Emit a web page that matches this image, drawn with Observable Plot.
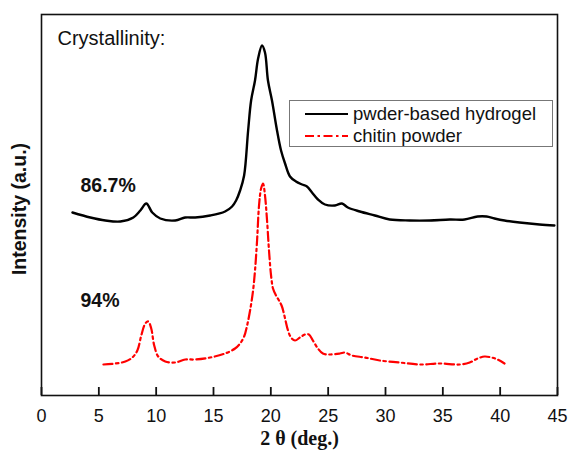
<!DOCTYPE html>
<html>
<head>
<meta charset="utf-8">
<script src="https://cdn.jsdelivr.net/npm/d3@7"></script>
<script src="https://cdn.jsdelivr.net/npm/@observablehq/plot@0.6"></script>
<style>
  body { margin: 0; background: #fff; }
  #wrap { position: relative; width: 570px; height: 454px; font-family: "Liberation Sans", Arial, sans-serif; }
  #legend { position: absolute; left: 289px; top: 100px; width: 264px; height: 47px; border: 1px solid #777; background: #fff; box-sizing: border-box; }
  .row { position: absolute; left: 0; height: 22px; display: flex; align-items: center; font-size: 18.5px; color: #111; white-space: nowrap; }
  .row svg { margin-left: 15px; margin-right: 5px; }
</style>
</head>
<body>
<div id="wrap">
  <div id="chart"></div>
  <div id="legend"></div>
</div>
<script>
// X: 2θ (deg.), Y: intensity (a.u.)
const hydrogelX = [2.70,4.26,5.57,6.88,8.01,8.62,9.14,9.66,10.36,11.66,12.53,13.40,14.71,16.01,16.62,16.97,17.32,17.67,18.02,18.28,18.62,18.89,19.23,19.49,19.75,20.10,20.54,20.89,21.24,21.67,22.19,22.72,23.15,23.59,24.11,24.72,25.59,26.20,26.72,27.76,29.07,30.37,32.11,33.86,35.60,36.90,38.03,38.82,39.51,40.38,41.69,43.43,44.73];
const hydrogelY = [183,178,175,174,178,185,192,183,177,175,178,178,180,184,189,195,205,220,265,295,315,337,350,343,315,295,265,245,232,219,214,211,209,203,196,191,190,192,188,184,180,176,175,175,176,176,179,179,177,175,173,171,170];

const chitinX = [5.40,6.44,7.31,7.92,8.36,8.70,9.05,9.31,9.57,9.83,10.18,10.79,11.66,12.53,13.40,14.71,16.01,16.88,17.32,17.67,17.93,18.19,18.45,18.62,18.80,18.97,19.15,19.32,19.49,19.67,19.84,20.02,20.19,20.45,20.71,20.97,21.24,21.50,21.76,22.11,22.54,22.98,23.32,23.67,24.11,24.54,25.15,26.02,26.46,27.07,28.20,29.50,31.24,32.98,34.73,36.47,37.34,38.03,38.64,39.25,39.77,40.38];
const chitinY = [31,32,34,38,45,60,72,74,67,50,39,34,33,36,36,38,42,47,52,59,70,85,105,125,155,190,207,212,200,175,145,120,107,100,95,89,77,65,58,55,58,61,61,55,47,42,41,42,43,40,38,35,33,31,32,31,33,37,39,38,36,32];

const xTicks = [0,5,10,15,20,25,30,35,40,45];
const seriesNames = ["pwder-based hydrogel", "chitin powder"];
const seriesColors = ["#000000", "#ff0000"];

const annotations = [
  {label: "86.7%", x: 3.4, y: 210},
  {label: "94%", x: 3.4, y: 95}
];

const hydrogel = hydrogelX.map((x, i) => ({x, y: hydrogelY[i]}));
const chitin = chitinX.map((x, i) => ({x, y: chitinY[i]}));

const chart = Plot.plot({
  width: 570,
  height: 454,
  marginLeft: 41,
  marginRight: 13,
  marginTop: 14,
  marginBottom: 59,
  style: {fontFamily: "'Liberation Sans', Arial, sans-serif", fontSize: "18px", color: "#111", background: "#fff"},
  x: {domain: [0, 45]},
  y: {domain: [0, 381], axis: null},
  marks: [
    Plot.axisX({ticks: xTicks, tickSize: 0, tickPadding: 14, label: null, fontSize: 18, fill: "#111"}),
    Plot.ruleX(xTicks, {y1: 0, y2: 8, stroke: "#111", strokeWidth: 1.8}),
    Plot.line(chitin, {x: "x", y: "y", stroke: seriesColors[1], strokeWidth: 2.2, strokeDasharray: "9,3.5,2.5,3.5", curve: "catmull-rom"}),
    Plot.line(hydrogel, {x: "x", y: "y", stroke: seriesColors[0], strokeWidth: 2.4, curve: "catmull-rom"}),
    Plot.frame({stroke: "#111", strokeWidth: 1.6}),
    Plot.text(["Crystallinity:"], {frameAnchor: "top-left", dx: 16, dy: 24, textAnchor: "start", lineAnchor: "middle", fontSize: 20, fill: "#111"}),
    Plot.text(annotations, {x: "x", y: "y", text: "label", textAnchor: "start", fontSize: 19.5, fontWeight: "bold", fill: "#111"}),
    Plot.text(["Intensity (a.u.)"], {frameAnchor: "left", dx: -22, dy: 4, rotate: -90, textAnchor: "middle", lineAnchor: "middle", fontSize: 19.5, fontWeight: "bold", fill: "#111"}),
    Plot.text(["2 θ (deg.)"], {frameAnchor: "bottom", dy: 43, textAnchor: "middle", lineAnchor: "middle", fontFamily: "'Liberation Serif', 'Times New Roman', serif", fontSize: 20, fontWeight: "bold", fill: "#111"})
  ]
});
document.getElementById("chart").appendChild(chart);

// legend
const legend = document.getElementById("legend");
const dashes = [null, "9,3.5,2.5,3.5"];
seriesNames.forEach((name, i) => {
  const row = document.createElement("div");
  row.className = "row";
  row.style.top = (i === 0 ? 2 : 24) + "px";
  const svg = d3.create("svg").attr("width", 43).attr("height", 10);
  svg.append("line").attr("x1", 0).attr("x2", 43).attr("y1", 5).attr("y2", 5)
    .attr("stroke", seriesColors[i]).attr("stroke-width", 2.2)
    .attr("stroke-dasharray", dashes[i]);
  row.appendChild(svg.node());
  const span = document.createElement("span");
  span.textContent = name;
  row.appendChild(span);
  legend.appendChild(row);
});
</script>
</body>
</html>
